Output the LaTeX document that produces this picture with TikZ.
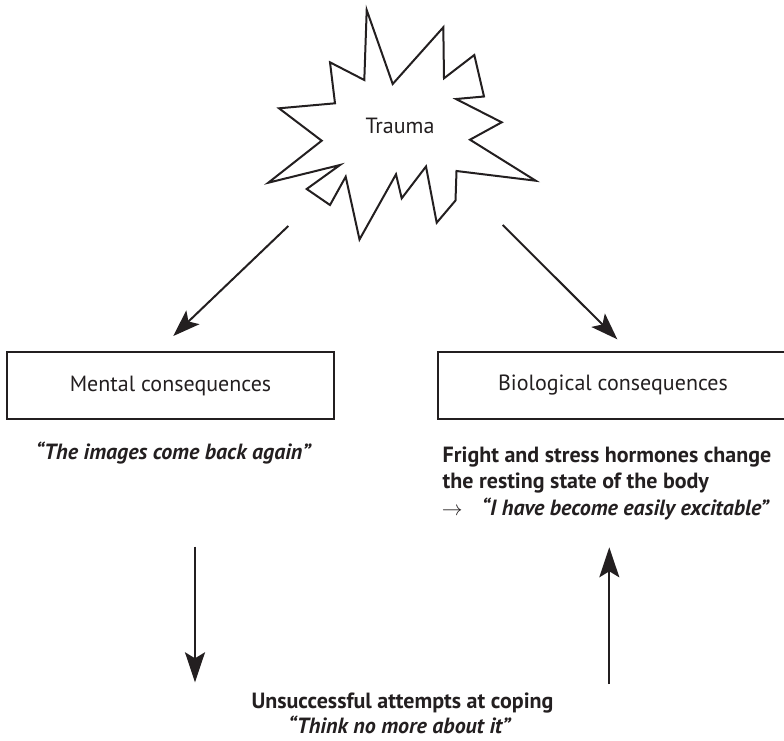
\documentclass[tikz,border=0pt]{standalone}
\usepackage{fontspec}
\setmainfont{PT Sans}
\usetikzlibrary{arrows.meta}
\definecolor{ink}{RGB}{35,31,32}
\begin{document}
\begin{tikzpicture}[x=1pt,y=-1pt,
  every node/.style={text=ink, font=\fontsize{22}{26}\selectfont},
  box/.style={draw=ink, line width=2.3pt, minimum height=67pt, inner sep=0pt},
  link/.style={draw=ink, line width=2pt, -{Stealth[length=30pt,width=20pt,inset=6pt]}},
  slant/.style={link, -{Stealth[length=27pt,width=19pt,inset=6pt]}},
  burst/.style={draw=ink, line width=2pt, line join=miter, miter limit=20},
  quote/.style={font=\fontsize{22}{26}\selectfont\bfseries\itshape},
  strong/.style={font=\fontsize{22}{26}\selectfont\bfseries},
]
\useasboundingbox (0,0) rectangle (784,740);
\clip (0,0) rectangle (784,740);

% the explosion outline
\draw[burst] (366.7,10) -- (392.7,84) -- (443.3,27.3) -- (444,78.3) -- (474.3,55)
  -- (484,96.5) -- (456,99) -- (501.7,122.3) -- (470,139.7) -- (535.7,180.7)
  -- (456.5,171) -- (455.5,200.5) -- (436.7,222.7) -- (426,166.5) -- (401.7,198.3)
  -- (396,174.3) -- (359.5,239.5) -- (345.7,176.7) -- (330,205) -- (306.7,189)
  -- (340,165) -- (268.3,182.7) -- (321.7,140.7) -- (279,108.3) -- (335,103.3)
  -- (330,62.3) -- (364.3,80) -- cycle;
\node (trauma) at (400,126) {Trauma};

% the two consequence boxes
\node[box, minimum width=327pt] (mental) at (170.5,385.5) {Mental consequences};
\node[box, minimum width=350pt] (bio) at (613,385.5) {Biological consequences};

% texts beneath the boxes
\node[quote] (mentalq) at (173.3,453) {“The images come back again”};
\node[strong, anchor=base west, inner sep=0pt] (bioA) at (442.5,462) {Fright and stress hormones change};
\node[strong, anchor=base west, inner sep=0pt] (bioB) at (442.5,488.3) {the resting state of the body};
\node[anchor=base west, inner sep=0pt] (bioarrow) at (441.7,515) {$\rightarrow$};
\node[quote, anchor=base west, inner sep=0pt] (bioC) at (481.7,515) {“I have become easily excitable”};

% coping at the bottom
\node[strong, anchor=base, inner sep=0pt] (coping) at (402.5,708.3) {Unsuccessful attempts at coping};
\node[quote, anchor=base, inner sep=0pt] (copingq) at (399.5,733.3) {“Think no more about it”};

% arrow ends
\coordinate (l0) at (288.3,226);  \coordinate (l1) at (173.3,336);
\coordinate (r0) at (502.7,225);  \coordinate (r1) at (617.3,339.3);
\coordinate (d0) at (195,546.7);  \coordinate (d1) at (195,682.3);
\coordinate (u0) at (609.3,684);  \coordinate (u1) at (609.3,547.3);

\draw[slant] (l0) -- (l1);
\draw[slant] (r0) -- (r1);
\draw[link] (d0) -- (d1);
\draw[link] (u0) -- (u1);
\end{tikzpicture}
\end{document}
